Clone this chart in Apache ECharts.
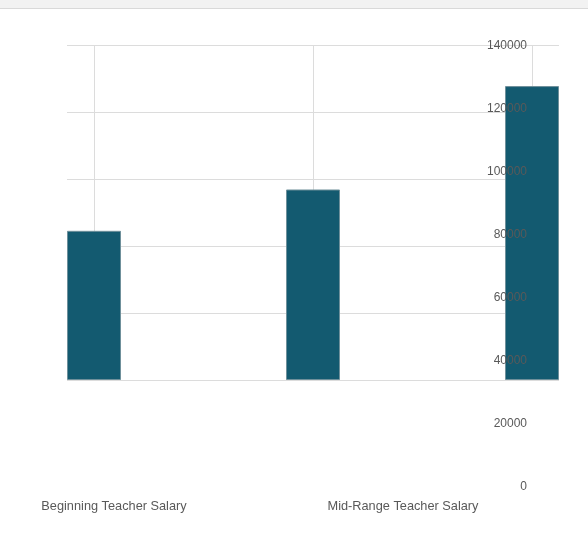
<!DOCTYPE html>
<html>
<head>
<meta charset="utf-8">
<script src="https://cdn.jsdelivr.net/npm/echarts@6/dist/echarts.min.js"></script>
<style>
    html, body { margin: 0; padding: 0; background: #fff; }
    #chart { width: 588px; height: 545px; }
</style>
</head>
<body>
<div id="chart"></div>
<script>
// categories + values (bar scale 0..150000)
const categories = ['Beginning Teacher Salary', 'Mid-Range Teacher Salary', 'Highest Teacher Salary']
const salaryValues = [66800, 85300, 131600]
// tick labels shown on the right-hand axis
const labelTicks = [0, 20000, 40000, 60000, 80000, 100000, 120000, 140000]

const textColor = '#595959'
const lineColor = '#dcdcdc'
const barColor = '#135a70'
const font = 'Liberation Sans, Arial, sans-serif'

let eChart = echarts.init(document.getElementById('chart'))

let option = {
    animation: false,
    graphic: [
        // grey strip at the top of the page
        { type: 'rect', shape: { x: 0, y: 0, width: 588, height: 8 }, style: { fill: '#f2f2f2' }, silent: true },
        { type: 'line', shape: { x1: 0, y1: 8.5, x2: 588, y2: 8.5 }, style: { stroke: '#d9d9d9', lineWidth: 1 }, silent: true }
    ],
    grid: [
        // bars + vertical lines
        { left: 94, right: 56, top: 45, bottom: 165, outerBoundsMode: 'none' },
        // horizontal lines
        { left: 67, right: 29, top: 45, bottom: 165, outerBoundsMode: 'none' },
        // right-hand value labels
        { left: 532, right: 20, top: 46, bottom: 58, outerBoundsMode: 'none' },
        // category labels (third one falls off the page)
        { left: 114, right: -104, top: 46, bottom: 58, outerBoundsMode: 'none' }
    ],
    xAxis: [
        {
            gridIndex: 0, type: 'category', data: categories, boundaryGap: false,
            axisLine: { show: false }, axisTick: { show: false }, axisLabel: { show: false },
            splitLine: { show: true, lineStyle: { color: lineColor, width: 1 } }
        },
        {
            gridIndex: 1, type: 'value', min: 0, max: 1, show: false
        },
        {
            gridIndex: 2, type: 'value', min: 0, max: 1, show: false
        },
        {
            gridIndex: 3, type: 'category', data: categories, boundaryGap: false,
            axisLine: { show: false }, axisTick: { show: false }, splitLine: { show: false },
            axisLabel: {
                show: true, interval: 0, margin: 13,
                color: textColor, fontSize: 12.75, fontFamily: font
            }
        }
    ],
    yAxis: [
        {
            gridIndex: 0, type: 'value', min: 0, max: 150000, interval: 30000,
            axisLine: { show: false }, axisTick: { show: false }, axisLabel: { show: false },
            splitLine: { show: false }
        },
        {
            gridIndex: 1, type: 'value', min: 0, max: 150000, interval: 30000,
            axisLine: { show: false }, axisTick: { show: false }, axisLabel: { show: false },
            splitLine: { show: true, lineStyle: { color: lineColor, width: 1 } }
        },
        {
            gridIndex: 2, type: 'value', min: labelTicks[0], max: labelTicks[labelTicks.length - 1],
            interval: labelTicks[1] - labelTicks[0], z: 10,
            axisLine: { show: false }, axisTick: { show: false }, splitLine: { show: false },
            axisLabel: {
                show: true, margin: 5,
                formatter: function (v) { return String(v) },
                color: textColor, fontSize: 12, fontFamily: font
            }
        },
        {
            gridIndex: 3, type: 'value', min: 0, max: 1, show: false
        }
    ],
    series: [
        {
            type: 'bar',
            xAxisIndex: 0,
            yAxisIndex: 0,
            data: salaryValues,
            barWidth: 54,
            clip: false,
            itemStyle: {
                color: barColor,
                borderColor: '#6f909b',
                borderWidth: 1
            }
        }
    ]
}
eChart.setOption(option)
</script>
</body>
</html>
